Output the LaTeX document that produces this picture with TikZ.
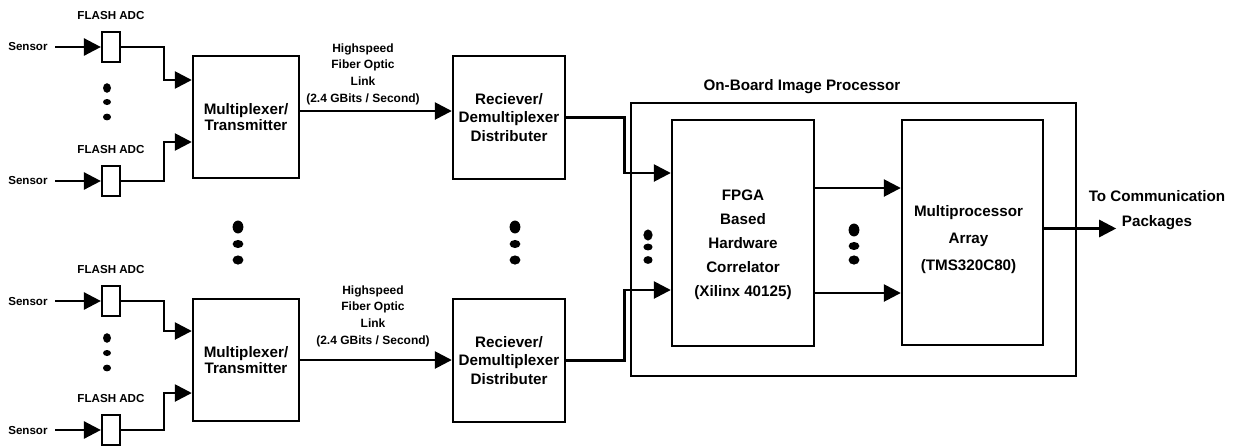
\documentclass[tikz,border=0pt]{standalone}
\usepackage{fontspec}
\setsansfont{Liberation Sans}
\usetikzlibrary{arrows.meta,positioning,calc}

\begin{document}
\begin{tikzpicture}[x=0.5pt,y=-0.5pt,
  every node/.style={font=\sffamily\bfseries,inner sep=1pt},
  lead/.style={font=\sffamily\bfseries\fontsize{7.6}{#1}\selectfont},
  block/.style={draw,line width=1.2pt,align=center,lead=9.3pt},
  adc/.style={draw,line width=1.1pt,minimum width=9pt,minimum height=15pt,inner sep=0pt},
  tag/.style={font=\sffamily\bfseries\fontsize{5.8}{7}\selectfont},
  linktag/.style={align=center,font=\sffamily\bfseries\fontsize{6}{8.3}\selectfont},
  wire/.style={line width=1.3pt},
  arr/.style={wire,-{Triangle[length=8.5pt,width=8.5pt]}}]
\useasboundingbox (0,0) rectangle (1236,445);

\coordinate (M1) at (246,117);
\coordinate (M2) at (246,360);
\coordinate (R1) at (509,117.5);
\coordinate (R2) at (509,360.5);
\coordinate (F) at (743,233);
\coordinate (P) at (972.5,232.5);
\coordinate (B) at (853.5,239.5);

\node[block,minimum width=222.5pt,minimum height=136.5pt] (board) at (B) {};
\node[lead=9pt] (boardtag) at (802,87) {On-Board Image Processor};

\node[block,lead=8pt,minimum width=53pt,minimum height=61pt] (mux1) at (M1) {Multiplexer/\\Transmitter};
\node[block,lead=8pt,minimum width=53pt,minimum height=61pt] (mux2) at (M2) {Multiplexer/\\Transmitter};
\node[block,minimum width=56pt,minimum height=61.5pt] (rec1) at (R1) {Reciever/\\Demultiplexer\\Distributer};
\node[block,minimum width=56pt,minimum height=61.5pt] (rec2) at (R2) {Reciever/\\Demultiplexer\\Distributer};

\node[block,minimum width=71pt,minimum height=113pt] (fpga) at (F) {};
\node[lead=12pt,align=center] (fpgatext) at ([yshift=-6pt]fpga.center) {FPGA\\Based\\Hardware\\Correlator\\(Xilinx 40125)};
\node[block,minimum width=70.5pt,minimum height=112.5pt] (mp) at (P) {};
\node[lead=13.5pt,align=center] (mptext) at ([xshift=-2pt,yshift=-3.75pt]mp.center) {Multiprocessor\\Array\\(TMS320C80)};

% one sensor chain per flash converter
\foreach \n/\y in {1/47,2/181,3/301,4/430} {
  \node[adc] (adc\n) at (111,\y) {};
  \node[tag,above=4.5pt of adc\n] (flash\n) {FLASH ADC};
  \node[tag,anchor=east] (sensor\n) at (50,\y) {Sensor};
  \draw[arr,shorten <=2.5pt] (sensor\n.east) -- (adc\n.west);
}
\foreach \n/\m/\s in {1/1/18.5pt,2/1/-12.5pt,3/2/14.5pt,4/2/-16.5pt}
  \draw[arr] (adc\n.east) -- ++(43,0) |- ([yshift=\s]mux\m.west);

\draw[arr] ([yshift=3pt]mux1.east) coordinate (l1) -- (l1 -| rec1.west);
\draw[arr] (mux2.east) coordinate (l2) -- (l2 -| rec2.west);
\node[linktag] (link1) at (363,74) {Highspeed\\Fiber Optic\\Link\\(2.4 GBits / Second)};
\node[linktag] (link2) at (373,316) {Highspeed\\Fiber Optic\\Link\\(2.4 GBits / Second)};

\draw[arr] (rec1.east) -- ++(58,0) |- ([yshift=30pt]fpga.west);
\draw[arr] (rec2.east) -- ++(58,0) |- ([yshift=-28.5pt]fpga.west);
\foreach \s/\k in {22.5pt/a,-30pt/b}
  \draw[arr] ([yshift=\s]fpga.east) coordinate (fp\k) -- (fp\k -| mp.west);

\draw[arr] ([yshift=2pt]mp.east) -- ++(72,0) coordinate (outend);
\node[lead=12.5pt,align=center] (comm) at (1157,210.5) {To Communication\\Packages};

% three dots stand for the channels left out
\foreach \x/\ya/\yb/\yc/\r in {107/88/102/117/2pt,107/338/353/368/2pt,238/227/244/260/2.7pt,515/227/244/260/2.7pt,648/235/247/260/2.3pt,854/230/246/260/2.7pt} {
  \fill (\x,\ya) ellipse [x radius=\r, y radius=1.2*\r];
  \fill (\x,\yb) ellipse [x radius=\r, y radius=0.75*\r];
  \fill (\x,\yc) ellipse [x radius=\r, y radius=0.85*\r];
}
\end{tikzpicture}
\end{document}
